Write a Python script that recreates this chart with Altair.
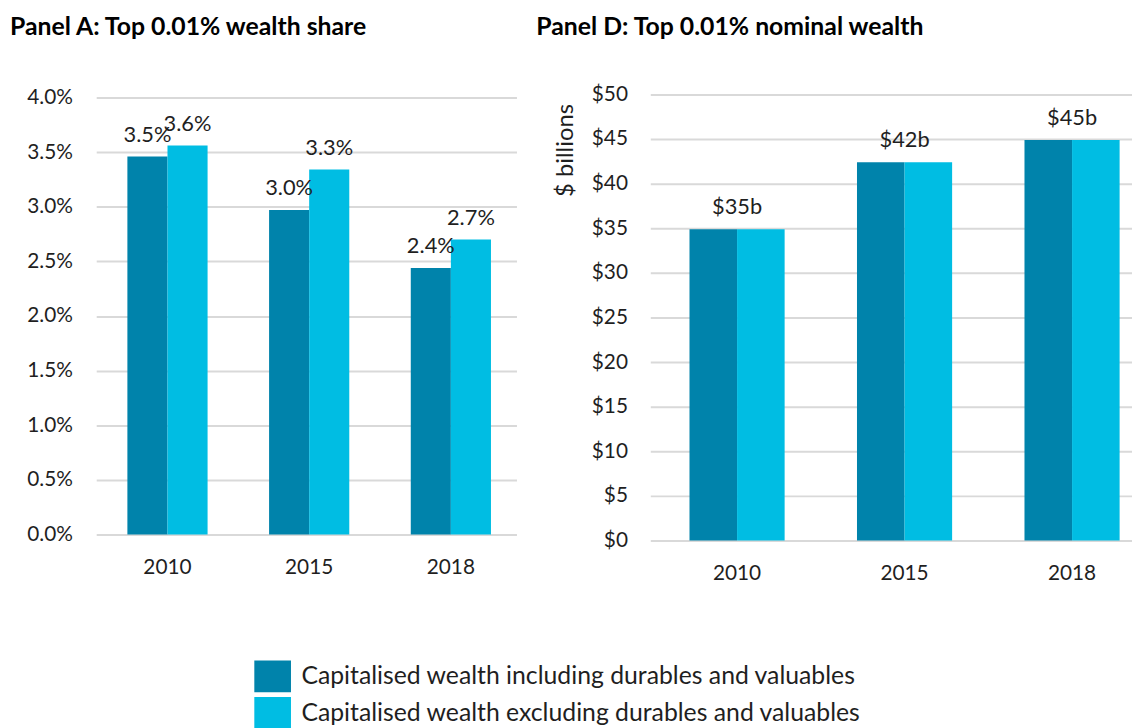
import altair as alt
import pandas as pd

# ---- data ----
years = ["2010", "2015", "2018"]
series = ["Capitalised wealth including durables and valuables",
          "Capitalised wealth excluding durables and valuables"]
share_incl = [3.46, 2.97, 2.44]      # % of total wealth
share_excl = [3.56, 3.34, 2.70]
nominal_incl = [34.9, 42.4, 44.9]    # $ billions
nominal_excl = [34.9, 42.4, 44.9]
share_ticks = [0, 0.005, 0.01, 0.015, 0.02, 0.025, 0.03, 0.035, 0.04]
nominal_ticks = [0, 5, 10, 15, 20, 25, 30, 35, 40, 45, 50]
colors = ["#0083AB", "#00BDE3"]

FONT = "Lato"
TXT = "#1f1f1f"
GRID = "#d9d9d9"

share_df = pd.DataFrame({
    "year": years * 2,
    "series": [series[0]] * 3 + [series[1]] * 3,
    "value": [v / 100 for v in share_incl + share_excl],
})
nom_df = pd.DataFrame({
    "year": years * 2,
    "series": [series[0]] * 3 + [series[1]] * 3,
    "value": nominal_incl + nominal_excl,
})
nom_lab = pd.DataFrame({"year": years, "value": nominal_incl})

legend = alt.Legend(
    title=None, orient="none", legendX=162, legendY=571, direction="vertical",
    symbolType="M-1.156,-1H1.156V1H-1.156Z", symbolSize=1024, symbolStrokeWidth=0,
    symbolOpacity=1, labelFontSize=25, labelOffset=13, rowPadding=5, labelLimit=0,
    labelFont=FONT, labelColor=TXT,
)
color = alt.Color("series:N", sort=series,
                  scale=alt.Scale(domain=series, range=colors), legend=legend)
xoff = alt.XOffset("series:N", sort=series,
                   scale=alt.Scale(domain=series, paddingInner=0, paddingOuter=0))

# ---- Panel A ----
hA = 444
A_top = 0.04 * hA / 441   # a little headroom above the 4.0% gridline
xA = alt.X("year:N", sort=years,
           scale=alt.Scale(paddingInner=0.434, paddingOuter=0.2, align=0.55),
           axis=alt.Axis(title=None, labelAngle=0, domain=False, ticks=False, tickSize=0,
                         grid=False, labelPadding=22, labelFontSize=21))
yA = alt.Y("value:Q", scale=alt.Scale(domain=[0, A_top], nice=False, zero=True),
           axis=alt.Axis(title=None, format=".1%", values=share_ticks, domain=False,
                         ticks=False, tickSize=0, labelPadding=24, labelFontSize=21,
                         gridColor=GRID, gridWidth=2))
baseA = alt.Chart(share_df).encode(x=xA, y=yA, xOffset=xoff)
barsA = baseA.mark_bar().encode(color=color)
textA = baseA.mark_text(baseline="alphabetic", dy=-15, fontSize=22, font=FONT, color=TXT).encode(
    text=alt.Text("value:Q", format=".1%"))
panelA = alt.layer(barsA, textA).properties(
    width=424, height=hA,
    title=alt.TitleParams("Panel A: Top 0.01% wealth share", anchor="start", frame="group",
                          dx=-87, fontSize=25, fontWeight="bold", font=FONT, color="#000",
                          offset=47))

# ---- Panel D ----
xD = alt.X("year:N", sort=years,
           scale=alt.Scale(paddingInner=0.432, paddingOuter=0.154, align=0.76),
           axis=alt.Axis(title=None, labelAngle=0, domain=False, ticks=False, tickSize=0,
                         grid=False, labelPadding=22, labelFontSize=21))
yD = alt.Y("value:Q", scale=alt.Scale(domain=[0, 50], nice=False, zero=True),
           axis=alt.Axis(title="$ billions", titleFontSize=24, titleFontWeight="normal",
                         titleFont=FONT, titleColor=TXT, titleY=56, titlePadding=14,
                         format="$.0f", values=nominal_ticks, domain=False,
                         ticks=False, tickSize=0, labelPadding=23, labelFontSize=21,
                         gridColor=GRID, gridWidth=2))
barsD = alt.Chart(nom_df).mark_bar().encode(x=xD, y=yD, xOffset=xoff, color=color)
textD = alt.Chart(nom_lab).transform_calculate(
    lab="'$' + format(datum.value, '.0f') + 'b'"
).mark_text(baseline="alphabetic", dy=-15, fontSize=22, font=FONT, color=TXT).encode(
    x=alt.X("year:N", sort=years), y=alt.Y("value:Q"), text="lab:N")
panelD = alt.layer(barsD, textD).properties(
    width=486, height=450,
    title=alt.TitleParams("Panel D: Top 0.01% nominal wealth", anchor="start", frame="group",
                          dx=-115, fontSize=25, fontWeight="bold", font=FONT, color="#000",
                          offset=44))

chart = alt.hconcat(panelA, panelD, spacing=20).resolve_scale(
    x="independent", y="independent", xOffset="independent", color="shared"
).properties(
    padding={"left": 2, "top": 4, "right": 0, "bottom": 0}
).configure_view(stroke=None).configure_axis(
    labelFont=FONT, labelColor=TXT, titleFont=FONT
)

chart.save("out.html", embed_options={"renderer": "svg", "actions": False})
